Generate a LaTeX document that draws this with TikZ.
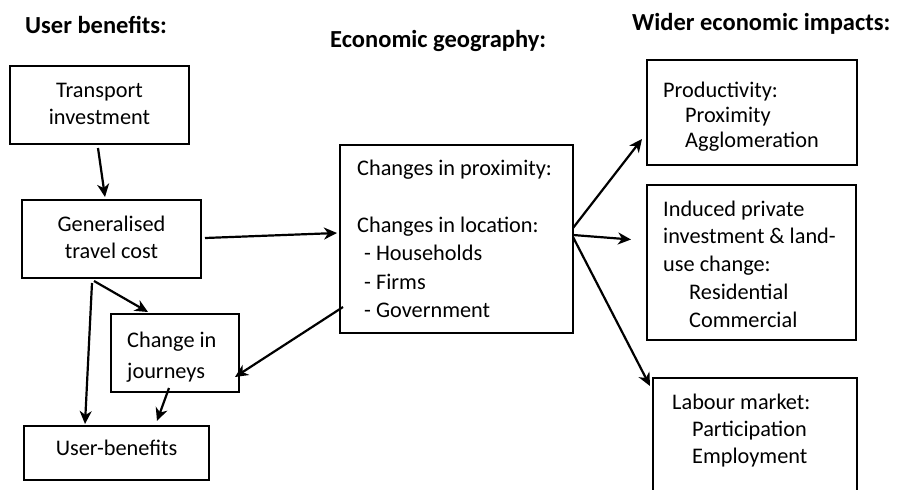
\documentclass[tikz,border=0pt]{standalone}
\usepackage{fontspec}
\setmainfont{Carlito}
\usetikzlibrary{arrows.meta}
\begin{document}
\begin{tikzpicture}[x=1pt,y=-1pt,
  box/.style={draw, line width=2pt, inner sep=0pt},
  conn/.style={line width=2.2pt, -{Stealth[length=13pt,width=12pt,inset=4pt]}},
  txt/.style={inner sep=0pt, anchor=base west, align=flush left, text width=220pt, font=\fontsize{22.3}{#1}\selectfont},
  ctxt/.style={inner sep=0pt, anchor=base, align=flush center, text width=170pt, font=\fontsize{22.3}{#1}\selectfont},
  head/.style={inner sep=0pt, anchor=base west, font=\fontsize{24.5}{29}\selectfont\bfseries}]
\useasboundingbox (0,0) rectangle (897,490);

% headings
\node[head] (h1) at (25,33) {User benefits:};
\node[head] (h2) at (330,47) {Economic geography:};
\node[head] (h3) at (632,30) {Wider economic impacts:};

% boxes
\node[box, minimum width=179pt, minimum height=78pt] (ti) at (99.5,105) {};
\node[box, minimum width=179pt, minimum height=78pt] (gtc) at (111.5,239) {};
\node[box, minimum width=128pt, minimum height=78pt] (cij) at (175,353) {};
\node[box, minimum width=185pt, minimum height=54pt] (ub) at (116.5,453) {};
\node[box, minimum width=233pt, minimum height=188pt] (cen) at (456.5,239) {};
\node[box, minimum width=210pt, minimum height=105pt] (prod) at (752,112.5) {};
\node[box, minimum width=209pt, minimum height=155pt] (ind) at (751.5,262.5) {};
\node[box, minimum width=204pt, minimum height=130pt] (lab) at (755,443) {};

% texts
\node[ctxt=27] (tit) at (99.5,97) {Transport\\investment};
\node[ctxt=27] (gtct) at (111.5,231) {Generalised\\travel cost};
\node[txt=31] (cijt) at (127,347) {Change in\\journeys};
\node[ctxt=27] (ubt) at (116.5,455) {User-benefits};
\node[txt=28.5] (cent) at (357,175) {Changes in proximity:\\[28.5pt]Changes in location:\\\hspace*{7pt}- Households\\\hspace*{7pt}- Firms\\\hspace*{7pt}- Government};
\node[txt=25] (prodt) at (663,97) {Productivity:\\\hspace*{22pt}Proximity\\\hspace*{22pt}Agglomeration};
\node[txt=27.8] (indt) at (663,216) {Induced private\\investment \& land-\\use change:\\\hspace*{26pt}Residential\\\hspace*{26pt}Commercial};
\node[txt=27] (labt) at (672,409) {Labour market:\\\hspace*{20pt}Participation\\\hspace*{20pt}Employment};

% connectors
\draw[conn] ([shift={(-1.5,3)}]ti.south) -- ([shift={(-6.5,-2)}]gtc.north);
\draw[conn] ([shift={(3,-1)}]gtc.east) -- ([shift={(-2,-6)}]cen.west);
\draw[conn] ([shift={(-17.5,2)}]gtc.south) -- ([shift={(-27,-1)}]cij.north);
\draw[conn] ([shift={(-19.5,4)}]gtc.south) -- ([shift={(-31.5,-1)}]ub.north);
\draw[conn] ([shift={(-6,-5)}]cij.south) -- ([shift={(40.5,-4)}]ub.north);
\draw[conn] ([shift={(4,68)}]cen.west) -- ([shift={(-5,24)}]cij.east);
\draw[conn] ([shift={(-1,-11)}]cen.east) -- ([shift={(-4,26.5)}]prod.west);
\draw[conn] ([shift={(-1,-4)}]cen.east) -- ([shift={(-15,-23)}]ind.west);
\draw[conn] ([shift={(-1,-2)}]cen.east) -- ([shift={(-2,9)}]lab.north west);
\end{tikzpicture}
\end{document}
